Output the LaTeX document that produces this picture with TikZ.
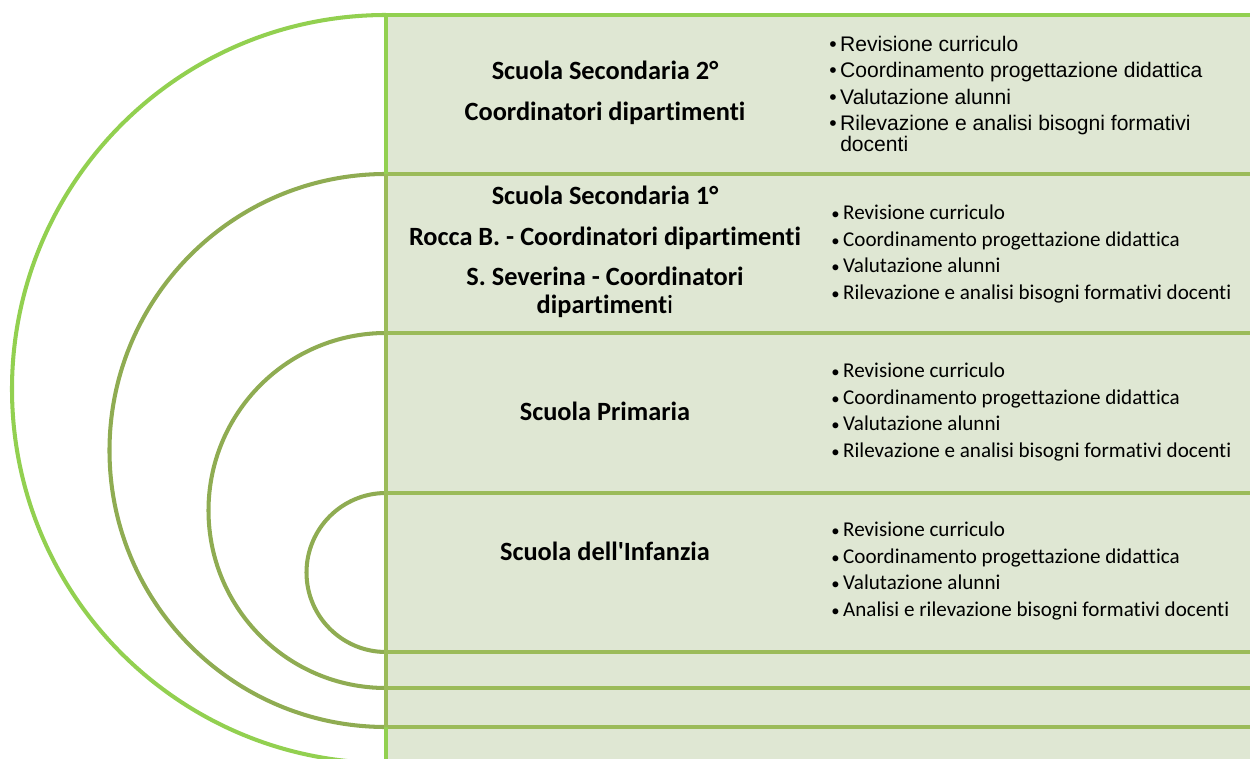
\documentclass[tikz,border=0pt]{standalone}
\usepackage{fontspec}
\setmainfont[Ligatures={NoCommon}]{Carlito}
\newfontfamily\arialfont{Liberation Sans}
\usepackage{tikz}

\definecolor{panelfill}{RGB}{223,231,211}
\definecolor{limegreen}{RGB}{146,208,80}
\definecolor{olivegreen}{RGB}{155,187,89}
\definecolor{arcgreen}{RGB}{143,172,82}

% small bullet and straight apostrophe
\newcommand{\dotitem}{{\fontsize{9.5}{9.5}\selectfont\textbullet}\,}
\newcommand{\straightquote}{\XeTeXglyph\numexpr\XeTeXcharglyph"27\relax}

\tikzset{
  schooltitle/.style={font=\bfseries\fontsize{15}{23}\selectfont, align=center, inner sep=0pt},
  tasklist/.style={font=\fontsize{12}{15.3}\selectfont, align=left, anchor=west, inner sep=0pt},
  ring/.style={line width=2.3pt}
}

\begin{document}
\begin{tikzpicture}[x=0.02cm,y=0.02cm]
    \clip (0,0) rectangle (1250,758);
    % Light panel behind the rows
    \fill[panelfill] (386,-5) rectangle (1250,743);
    % Row borders
    \draw[ring, limegreen] (386,743) -- (1250,743);
    \draw[ring, olivegreen] (386,584) -- (1250,584);
    \draw[ring, olivegreen] (386,425) -- (1250,425);
    \draw[ring, olivegreen] (386,265) -- (1250,265);
    \draw[ring, olivegreen] (386,106) -- (1250,106);
    \draw[ring, olivegreen] (386,70) -- (1250,70);
    \draw[ring, olivegreen] (386,31) -- (1250,31);
    % Half rings on the left
    \draw[ring, limegreen] (386,743) arc (90:270:374);
    \draw[ring, arcgreen] (386,584) arc (90:270:276.5);
    \draw[ring, arcgreen] (386,425) arc (90:270:177.5);
    \draw[ring, arcgreen] (386,265) arc (90:270:79.5);
    % Vertical edge of the panel
    \draw[ring, limegreen] (386,743) -- (386,584);
    \draw[ring, olivegreen] (386,584) -- (386,31);
    \draw[ring, limegreen] (386,31) -- (386,-5);

    % Row 1: Scuola Secondaria 2
    \node[schooltitle] (sec2) at (605,665) {Scuola Secondaria 2°\\Coordinatori dipartimenti};
    \node[tasklist, font=\arialfont\fontsize{12}{14.9}\selectfont] (sec2tasks) at (829,664)
        {\textbullet\,Revisione curriculo\\
         \textbullet\,Coordinamento progettazione didattica\\
         \textbullet\,Valutazione alunni\\
         \textbullet\,Rilevazione e analisi bisogni formativi\\[-3pt]
         \phantom{\textbullet\,}docenti};

    % Row 2: Scuola Secondaria 1
    \node[schooltitle] (sec1) at (605,506) {Scuola Secondaria 1°\\Rocca B. - Coordinatori dipartimenti\\S. Severina - Coordinatori\\[-7pt]dipartiment\mdseries i};
    \node[tasklist] (sec1tasks) at (831,504)
        {\dotitem Revisione curriculo\\
         \dotitem Coordinamento progettazione didattica\\
         \dotitem Valutazione alunni\\
         \dotitem Rilevazione e analisi bisogni formativi docenti};

    % Row 3: Scuola Primaria
    \node[schooltitle] (prim) at (605,347) {Scuola Primaria};
    \node[tasklist] (primtasks) at (831,346)
        {\dotitem Revisione curriculo\\
         \dotitem Coordinamento progettazione didattica\\
         \dotitem Valutazione alunni\\
         \dotitem Rilevazione e analisi bisogni formativi docenti};

    % Row 4: Scuola dell'Infanzia
    \node[schooltitle] (infa) at (605,207) {Scuola dell\straightquote Infanzia};
    \node[tasklist] (infatasks) at (831,187)
        {\dotitem Revisione curriculo\\
         \dotitem Coordinamento progettazione didattica\\
         \dotitem Valutazione alunni\\
         \dotitem Analisi e rilevazione bisogni formativi docenti};
\end{tikzpicture}
\end{document}
